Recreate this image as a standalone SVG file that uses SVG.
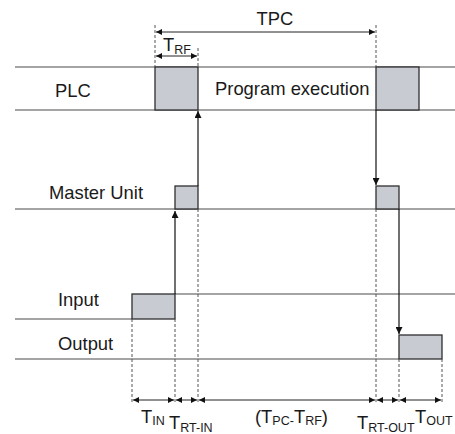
<svg xmlns="http://www.w3.org/2000/svg" width="455" height="434" viewBox="0 0 455 434">
<defs>
<style>
text{font-family:"Liberation Sans",Arial,sans-serif;font-size:18.4px;fill:#1a1a1a}
.sub{font-size:12.5px}
.ln{stroke:#4a4a4a;stroke-width:1.2;fill:none}
.box{fill:#c9cbd3;stroke:#2e2e2e;stroke-width:1.3}
.dash{stroke:#555;stroke-width:1;stroke-dasharray:3,2;fill:none}
.arr{stroke:#111;stroke-width:1.2;fill:none}
.dim{stroke:#222;stroke-width:1;fill:none;marker-start:url(#ah);marker-end:url(#ah)}
</style>
<marker id="ah" viewBox="0 0 10 10" refX="10" refY="5" markerWidth="7" markerHeight="6" markerUnits="userSpaceOnUse" orient="auto-start-reverse">
<path d="M0,0 L10,5 L0,10 z" fill="#111"/>
</marker>
<marker id="av" viewBox="0 0 10 10" refX="10" refY="5" markerWidth="8" markerHeight="7" markerUnits="userSpaceOnUse" orient="auto">
<path d="M0,0 L10,5 L0,10 z" fill="#111"/>
</marker>
</defs>
<rect width="455" height="434" fill="#fff"/>

<g id="plc">
<line class="ln" x1="15" y1="67" x2="455" y2="67"/>
<line class="ln" x1="15" y1="110" x2="455" y2="110"/>
<rect class="box" x="155" y="67" width="43" height="43"/>
<rect class="box" x="376" y="67" width="43" height="43"/>
<text x="55" y="97">PLC</text>
<text x="215" y="95">Program execution</text>
</g>

<g id="master-unit">
<line class="ln" x1="15" y1="209" x2="455" y2="209"/>
<rect class="box" x="175" y="186" width="23" height="23"/>
<rect class="box" x="376" y="186" width="23" height="23"/>
<text x="49" y="199">Master Unit</text>
</g>

<g id="input">
<line class="ln" x1="15" y1="319" x2="132" y2="319"/>
<line class="ln" x1="175" y1="294" x2="455" y2="294"/>
<rect class="box" x="132" y="294" width="43" height="25"/>
<text x="58" y="306">Input</text>
</g>

<g id="output">
<line class="ln" x1="15" y1="359" x2="399" y2="359"/>
<rect class="box" x="399" y="335" width="43" height="24"/>
<text x="58" y="350">Output</text>
</g>

<g id="connectors">
<line class="dash" x1="155" y1="25" x2="155" y2="67"/>
<line class="dash" x1="376" y1="25" x2="376" y2="67"/>
<line class="dash" x1="198" y1="48" x2="198" y2="67"/>
<line class="dash" x1="132" y1="319" x2="132" y2="404"/>
<line class="dash" x1="175" y1="319" x2="175" y2="404"/>
<line class="dash" x1="198" y1="209" x2="198" y2="404"/>
<line class="dash" x1="376" y1="209" x2="376" y2="404"/>
<line class="dash" x1="399" y1="359" x2="399" y2="404"/>
<line class="dash" x1="442" y1="359" x2="442" y2="404"/>
<line class="arr" x1="175" y1="294" x2="175" y2="211" marker-end="url(#av)"/>
<line class="arr" x1="198" y1="186" x2="198" y2="111" marker-end="url(#av)"/>
<line class="arr" x1="376" y1="110" x2="376" y2="185" marker-end="url(#av)"/>
<line class="arr" x1="399" y1="209" x2="399" y2="334" marker-end="url(#av)"/>
<line class="dim" x1="156" y1="32" x2="375" y2="32"/>
<line class="dim" x1="156" y1="56" x2="197" y2="56"/>
<line class="dim" x1="133" y1="400" x2="174" y2="400"/>
<line class="dim" x1="176" y1="400" x2="197" y2="400"/>
<line class="dim" x1="199" y1="400" x2="375" y2="400"/>
<line class="dim" x1="377" y1="400" x2="398" y2="400"/>
<line class="dim" x1="400" y1="400" x2="441" y2="400"/>
</g>

<g id="labels">
<text x="275" y="25" text-anchor="middle">TPC</text>
<text x="163" y="51">T<tspan class="sub" dy="3">RF</tspan></text>
<text x="141" y="423">T<tspan class="sub" dy="2">IN</tspan></text>
<text x="169" y="429">T<tspan class="sub" dy="3">RT-IN</tspan></text>
<text x="255" y="423">(T<tspan class="sub" dy="2">PC-</tspan><tspan dy="-2">T</tspan><tspan class="sub" dy="2">RF</tspan><tspan dy="-2">)</tspan></text>
<text x="357" y="429">T<tspan class="sub" dy="3">RT-OUT</tspan></text>
<text x="415" y="423">T<tspan class="sub" dy="2">OUT</tspan></text>
</g>
</svg>
